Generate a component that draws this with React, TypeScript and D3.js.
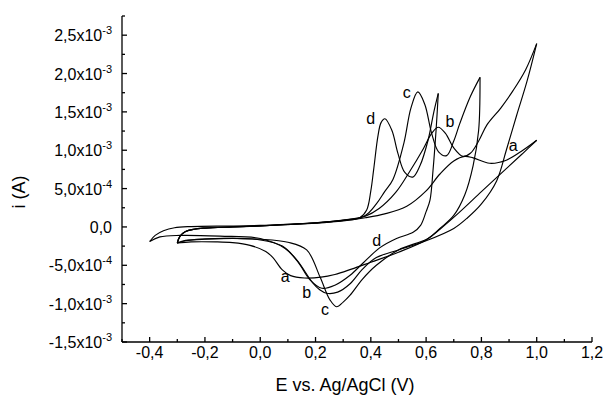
import React from 'react';
import * as d3 from 'd3';

// cyclic voltammograms, E in V, i in mA (axis labelled in A)
const aAnodic: [number, number][] = [
  [-0.30, -0.21], [-0.29, -0.12], [-0.27, -0.06], [-0.24, -0.03], [-0.20, -0.015],
  [-0.10, 0.0], [0.0, 0.012], [0.10, 0.03], [0.20, 0.05], [0.30, 0.08], [0.38, 0.12],
  [0.45, 0.17], [0.53, 0.27], [0.60, 0.47], [0.65, 0.69], [0.70, 0.86], [0.74, 0.92],
  [0.77, 0.90], [0.83, 0.83], [0.89, 0.87], [0.95, 1.0], [1.0, 1.13],
];
const aCathodic: [number, number][] = [
  [1.0, 1.13], [0.95, 0.96], [0.89, 0.76], [0.80, 0.46], [0.72, 0.19], [0.65, -0.03],
  [0.60, -0.17], [0.50, -0.33], [0.40, -0.46], [0.33, -0.55], [0.27, -0.62], [0.22, -0.655],
  [0.16, -0.665], [0.11, -0.635], [0.08, -0.56], [0.046, -0.40], [0.02, -0.32],
  [-0.037, -0.24], [-0.10, -0.205], [-0.16, -0.195], [-0.25, -0.195], [-0.30, -0.21],
];

const bAnodic: [number, number][] = [
  [-0.30, -0.21], [-0.29, -0.12], [-0.27, -0.06], [-0.24, -0.03], [-0.20, -0.015],
  [-0.10, 0.0], [0.0, 0.013], [0.10, 0.032], [0.20, 0.052], [0.30, 0.085], [0.38, 0.14],
  [0.43, 0.24], [0.49, 0.45], [0.54, 0.72], [0.59, 1.02], [0.62, 1.22], [0.644, 1.30],
  [0.67, 1.22], [0.70, 1.03], [0.733, 0.92], [0.76, 0.96], [0.79, 1.12], [0.82, 1.33],
  [0.87, 1.55], [0.915, 1.78], [0.96, 2.05], [1.0, 2.39],
];
const bCathodic: [number, number][] = [
  [1.0, 2.39], [0.965, 1.9], [0.927, 1.45], [0.89, 1.0], [0.855, 0.6], [0.80, 0.30],
  [0.75, 0.12], [0.70, -0.02], [0.60, -0.18], [0.50, -0.30], [0.42, -0.40], [0.37, -0.55],
  [0.325, -0.74], [0.28, -0.85], [0.24, -0.865], [0.215, -0.82], [0.19, -0.73],
  [0.132, -0.43], [0.08, -0.25], [0.0, -0.17], [-0.10, -0.15], [-0.20, -0.155],
  [-0.27, -0.175], [-0.30, -0.21],
];

const cAnodic: [number, number][] = [
  [-0.30, -0.21], [-0.29, -0.12], [-0.27, -0.06], [-0.24, -0.03], [-0.20, -0.015],
  [-0.10, 0.0], [0.0, 0.014], [0.10, 0.033], [0.20, 0.053], [0.30, 0.088], [0.38, 0.15],
  [0.42, 0.30], [0.45, 0.46], [0.48, 0.62], [0.52, 1.1], [0.545, 1.55], [0.57, 1.76],
  [0.595, 1.6], [0.62, 1.22], [0.645, 0.98], [0.674, 0.93], [0.70, 1.12], [0.722, 1.35],
  [0.76, 1.7], [0.795, 1.95],
];
const cCathodic: [number, number][] = [
  [0.795, 1.95], [0.79, 1.26], [0.77, 0.8], [0.74, 0.42], [0.70, 0.15], [0.65, -0.02],
  [0.607, -0.15], [0.50, -0.30], [0.42, -0.50], [0.37, -0.68], [0.325, -0.89],
  [0.30, -0.98], [0.276, -1.04], [0.252, -0.95], [0.216, -0.65], [0.168, -0.30],
  [0.10, -0.20], [0.0, -0.16], [-0.10, -0.15], [-0.20, -0.16], [-0.27, -0.18], [-0.30, -0.21],
];

const dAnodic: [number, number][] = [
  [-0.40, -0.19], [-0.38, -0.11], [-0.35, -0.05], [-0.31, -0.01], [-0.25, 0.005],
  [-0.10, 0.012], [0.0, 0.02], [0.10, 0.035], [0.20, 0.055], [0.30, 0.085], [0.36, 0.12],
  [0.385, 0.22], [0.40, 0.47], [0.41, 0.74], [0.426, 1.19], [0.437, 1.36], [0.451, 1.41],
  [0.476, 1.26], [0.498, 0.96], [0.523, 0.71], [0.552, 0.65], [0.578, 0.8], [0.607, 1.13],
  [0.628, 1.5], [0.644, 1.74],
];
const dCathodic: [number, number][] = [
  [0.644, 1.74], [0.636, 1.26], [0.625, 0.74], [0.614, 0.35], [0.60, 0.2], [0.58, 0.02],
  [0.553, -0.07], [0.493, -0.15], [0.433, -0.27], [0.372, -0.47], [0.325, -0.63],
  [0.27, -0.76], [0.223, -0.80], [0.18, -0.69], [0.137, -0.46], [0.09, -0.28], [0.0, -0.15],
  [-0.146, -0.12], [-0.29, -0.11], [-0.363, -0.13], [-0.40, -0.19],
];

const sweeps = [aAnodic, aCathodic, bAnodic, bCathodic, cAnodic, cCathodic, dAnodic, dCathodic];

const curveLabels: [string, number, number][] = [
  ['a', 0.915, 1.06], ['b', 0.686, 1.37], ['c', 0.53, 1.76], ['d', 0.40, 1.41],
  ['d', 0.421, -0.17], ['a', 0.09, -0.65], ['b', 0.168, -0.85], ['c', 0.234, -1.08],
];

const xTicks = [-0.4, -0.2, 0, 0.2, 0.4, 0.6, 0.8, 1.0, 1.2];
const xTickLabels = ['-0,4', '-0,2', '0,0', '0,2', '0,4', '0,6', '0,8', '1,0', '1,2'];
const xMinor = [-0.5, -0.3, -0.1, 0.1, 0.3, 0.5, 0.7, 0.9, 1.1];

const yTicks = [-1.5, -1.0, -0.5, 0, 0.5, 1.0, 1.5, 2.0, 2.5];
const yMantissa = ['-1,5', '-1,0', '-5,0', '0,0', '5,0', '1,0', '1,5', '2,0', '2,5'];
const yExponent = ['-3', '-3', '-4', '', '-4', '-3', '-3', '-3', '-3'];
const yMinor = [-1.25, -0.75, -0.25, 0.25, 0.75, 1.25, 1.75, 2.25, 2.75];

const W = 607;
const H = 399;
const font = "'Liberation Sans', Arial, sans-serif";

export default function App() {
  const x = d3.scaleLinear().domain([-0.5, 1.2]).range([122, 592]);
  const y = d3.scaleLinear().domain([-1.5, 2.75]).range([342, 16]);

  const line = d3.line<[number, number]>()
    .x(d => x(d[0]))
    .y(d => y(d[1]))
    .curve(d3.curveCatmullRom.alpha(0.5));

  const x0 = x.range()[0];
  const y0 = y.range()[0];

  return (
    <svg width={W} height={H} style={{ position: 'absolute', left: 0, top: 0, background: '#fff' }}
      fontFamily={font}>
      <g fill="none" stroke="#000" strokeWidth={1.15}>
        {sweeps.map((s, k) => <path key={k} d={line(s) || ''} />)}
      </g>

      {/* axes */}
      <g stroke="#000" strokeWidth={1.3} fill="none">
        <line x1={x0} y1={y(2.75)} x2={x0} y2={y0} />
        <line x1={x0} y1={y0} x2={x(1.2)} y2={y0} />
        {yTicks.map(t => <line key={'ym' + t} x1={x0} x2={x0 + 5} y1={y(t)} y2={y(t)} />)}
        {yMinor.map(t => <line key={'yn' + t} x1={x0} x2={x0 + 3} y1={y(t)} y2={y(t)} />)}
        {xTicks.map(t => <line key={'xm' + t} x1={x(t)} x2={x(t)} y1={y0} y2={y0 - 5} />)}
        {xMinor.map(t => <line key={'xn' + t} x1={x(t)} x2={x(t)} y1={y0} y2={y0 - 3} />)}
      </g>

      <g fontSize={16} fill="#000">
        {xTicks.map((t, k) => (
          <text key={'xl' + t} x={x(t)} y={y0 + 16} textAnchor="middle">{xTickLabels[k]}</text>
        ))}
        {yTicks.map((t, k) => (
          <text key={'yl' + t} x={112} y={y(t) + 6} textAnchor="end">
            {yExponent[k] ? (
              <>
                <tspan>{yMantissa[k] + 'x10'}</tspan>
                <tspan fontSize={11} dy={-7}>{yExponent[k]}</tspan>
              </>
            ) : yMantissa[k]}
          </text>
        ))}
      </g>

      <g fontSize={16} fill="#000" textAnchor="middle">
        {curveLabels.map(([s, e, i], k) => (
          <text key={'cl' + k} x={x(e)} y={y(i)} dy="0.35em">{s}</text>
        ))}
      </g>

      <text x={345} y={391} fontSize={18} textAnchor="middle">E vs. Ag/AgCl (V)</text>
      <text transform="translate(25,192) rotate(-90)" fontSize={18} textAnchor="middle">i (A)</text>
    </svg>
  );
}
